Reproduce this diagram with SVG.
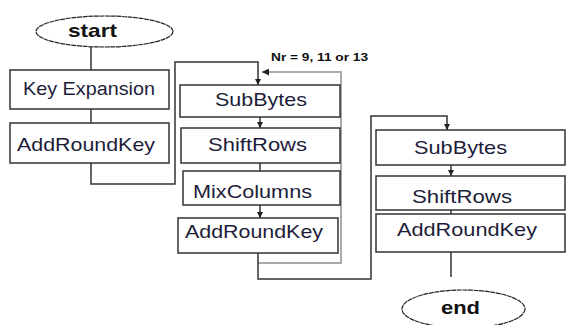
<svg xmlns="http://www.w3.org/2000/svg" width="566" height="325" viewBox="0 0 566 325">
<style>
.box{fill:#fff;stroke:#333;stroke-width:1.5}
.oval{fill:#fff;stroke:#222;stroke-width:1.2;stroke-dasharray:5 0.6}
.t{font-family:"Liberation Sans",Arial,sans-serif;font-size:19px;fill:#1d1d3a}
.b{font-family:"Liberation Sans",Arial,sans-serif;font-weight:bold;fill:#111}
.c{fill:none;stroke:#333;stroke-width:1.5}
.g{fill:none;stroke:#aaa;stroke-width:2}
</style>
<defs>
<marker id="a" viewBox="0 0 8 8" refX="8" refY="4" markerWidth="6" markerHeight="6" orient="auto" markerUnits="userSpaceOnUse"><path d="M0,0 L8,4 L0,8 z" fill="#222"/></marker>
<marker id="ag" viewBox="0 0 8 8" refX="8" refY="4" markerWidth="7" markerHeight="7" orient="auto" markerUnits="userSpaceOnUse"><path d="M0,0 L8,4 L0,8 z" fill="#222"/></marker>
</defs>
<g id="connectors">
<line class="c" x1="91" y1="47" x2="91" y2="70"/>
<line class="c" x1="91" y1="109" x2="91" y2="123"/>
<path class="c" d="M91,163 V184 H175 V62 H258 V85" marker-end="url(#a)"/>
<line class="c" x1="260" y1="117" x2="260" y2="128" marker-end="url(#a)"/>
<line class="c" x1="260" y1="163" x2="260" y2="171"/>
<line class="c" x1="260" y1="205" x2="260" y2="218" marker-end="url(#a)"/>
<path class="g" d="M258,263 H341 V72 H262" marker-end="url(#ag)"/>
<path class="c" d="M258,253 V279 H371 V116 H447 V130" marker-end="url(#a)"/>
<line class="c" x1="451" y1="165" x2="451" y2="176" marker-end="url(#a)"/>
<line class="c" x1="451" y1="210" x2="451" y2="214"/>
<line class="c" x1="451" y1="252" x2="451" y2="277"/>
<text class="b" x="271" y="61" font-size="11" textLength="97" lengthAdjust="spacingAndGlyphs">Nr = 9, 11 or 13</text>
</g>
<g id="start">
<ellipse class="oval" cx="104.5" cy="31.5" rx="68.5" ry="15.5"/>
<text class="b" x="68" y="37" font-size="19" textLength="49" lengthAdjust="spacingAndGlyphs">start</text>
</g>
<g id="keyexp">
<rect class="box" x="10" y="70" width="159" height="39"/>
<text class="t" x="23" y="95" textLength="132" lengthAdjust="spacingAndGlyphs">Key Expansion</text>
</g>
<g id="ark1">
<rect class="box" x="10" y="123" width="159" height="40"/>
<text class="t" x="17" y="151" textLength="138" lengthAdjust="spacingAndGlyphs">AddRoundKey</text>
</g>
<g id="subbytes1">
<rect class="box" x="180" y="85" width="160" height="32"/>
<text class="t" x="215" y="106" textLength="92" lengthAdjust="spacingAndGlyphs">SubBytes</text>
</g>
<g id="shiftrows1">
<rect class="box" x="181" y="128" width="159" height="35"/>
<text class="t" x="208" y="151" textLength="99" lengthAdjust="spacingAndGlyphs">ShiftRows</text>
</g>
<g id="mixcolumns">
<rect class="box" x="183" y="171" width="157" height="34"/>
<text class="t" x="193" y="198" textLength="119" lengthAdjust="spacingAndGlyphs">MixColumns</text>
</g>
<g id="ark2">
<rect class="box" x="178" y="218" width="160" height="35"/>
<text class="t" x="185" y="238" textLength="138" lengthAdjust="spacingAndGlyphs">AddRoundKey</text>
</g>
<g id="subbytes2">
<rect class="box" x="376" y="130" width="189" height="35"/>
<text class="t" x="414" y="154" textLength="93" lengthAdjust="spacingAndGlyphs">SubBytes</text>
</g>
<g id="shiftrows2">
<rect class="box" x="376" y="176" width="189" height="34"/>
<text class="t" x="412" y="203" textLength="100" lengthAdjust="spacingAndGlyphs">ShiftRows</text>
</g>
<g id="ark3">
<rect class="box" x="376" y="214" width="189" height="38"/>
<text class="t" x="397" y="236" textLength="140" lengthAdjust="spacingAndGlyphs">AddRoundKey</text>
</g>
<g id="end">
<ellipse class="oval" cx="463.5" cy="309" rx="61.5" ry="19"/>
<text class="b" x="441" y="314" font-size="19" textLength="39" lengthAdjust="spacingAndGlyphs">end</text>
</g>
</svg>
